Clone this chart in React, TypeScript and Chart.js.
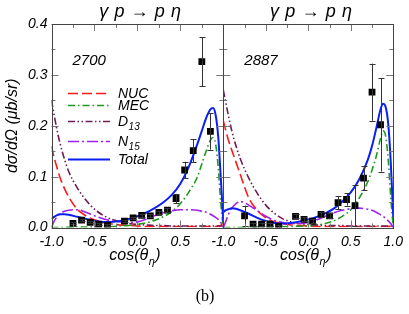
import React, { useEffect, useRef } from 'react';
import { Chart, registerables } from 'chart.js';
Chart.register(...registerables);

const W = 409;
const H = 314;

// ---- data ----
const cosGrid = [-1, -0.97, -0.94, -0.9, -0.85, -0.8, -0.7, -0.6, -0.5, -0.4, -0.3, -0.2, -0.1, 0, 0.1, 0.2, 0.3, 0.4, 0.5, 0.6, 0.7, 0.75, 0.8, 0.85, 0.88, 0.91, 0.94, 0.97, 1.0];

const nuc2700 = [0.16, 0.138, 0.12, 0.098, 0.077, 0.06, 0.036, 0.023, 0.015, 0.01, 0.007, 0.005, 0.004, 0.003, 0.002, 0.002, 0.002, 0.002, 0.002, 0.002, 0.002, 0.002, 0.002, 0.002, 0.002, 0.002, 0.003, 0.004, 0.01];
const mec2700 = [0, 0, 0, 0, 0, 0.0005, 0.001, 0.001, 0.0015, 0.002, 0.002, 0.003, 0.004, 0.006, 0.009, 0.014, 0.021, 0.031, 0.047, 0.07, 0.1, 0.125, 0.15, 0.172, 0.177, 0.165, 0.12, 0.05, 0];
const d13_2700 = [0.25, 0.222, 0.195, 0.165, 0.135, 0.11, 0.078, 0.054, 0.036, 0.024, 0.016, 0.011, 0.008, 0.006, 0.005, 0.004, 0.004, 0.003, 0.003, 0.003, 0.003, 0.003, 0.003, 0.003, 0.003, 0.003, 0.003, 0.003, 0.003];
const n15_2700 = [0, 0.012, 0.02, 0.027, 0.032, 0.034, 0.035, 0.03, 0.023, 0.017, 0.013, 0.011, 0.01, 0.011, 0.016, 0.023, 0.029, 0.033, 0.035, 0.035, 0.034, 0.032, 0.03, 0.026, 0.023, 0.02, 0.016, 0.01, 0];
const total2700 = [0.017, 0.021, 0.024, 0.026, 0.026, 0.025, 0.021, 0.017, 0.013, 0.011, 0.011, 0.013, 0.017, 0.022, 0.029, 0.038, 0.049, 0.064, 0.086, 0.12, 0.165, 0.19, 0.215, 0.232, 0.235, 0.222, 0.18, 0.1, 0.012];

const nuc2887 = [0.21, 0.19, 0.172, 0.152, 0.128, 0.104, 0.058, 0.034, 0.019, 0.011, 0.008, 0.005, 0.004, 0.003, 0.002, 0.002, 0.002, 0.002, 0.002, 0.002, 0.002, 0.002, 0.002, 0.002, 0.002, 0.002, 0.002, 0.003, 0.008];
const mec2887 = [0, 0, 0, 0, 0, 0, 0.0005, 0.001, 0.001, 0.001, 0.0015, 0.002, 0.0025, 0.003, 0.005, 0.008, 0.013, 0.022, 0.035, 0.058, 0.09, 0.113, 0.14, 0.175, 0.19, 0.18, 0.135, 0.06, 0];
const d13_2887 = [0.27, 0.245, 0.22, 0.19, 0.16, 0.135, 0.097, 0.067, 0.044, 0.028, 0.017, 0.011, 0.008, 0.006, 0.005, 0.004, 0.004, 0.004, 0.003, 0.003, 0.003, 0.003, 0.003, 0.003, 0.003, 0.003, 0.003, 0.003, 0.003];
const n15_2887 = [0, 0.012, 0.026, 0.038, 0.047, 0.051, 0.044, 0.033, 0.022, 0.014, 0.01, 0.008, 0.008, 0.01, 0.015, 0.022, 0.029, 0.034, 0.037, 0.038, 0.036, 0.034, 0.03, 0.025, 0.022, 0.018, 0.013, 0.008, 0];
const total2887 = [0.03, 0.034, 0.036, 0.038, 0.037, 0.034, 0.027, 0.019, 0.013, 0.009, 0.008, 0.009, 0.012, 0.016, 0.021, 0.028, 0.037, 0.051, 0.069, 0.095, 0.133, 0.16, 0.195, 0.232, 0.243, 0.237, 0.205, 0.13, 0.02];

const dataCos = [-0.75, -0.65, -0.55, -0.45, -0.35, -0.15, -0.05, 0.05, 0.15, 0.25, 0.35, 0.45, 0.55, 0.65, 0.75, 0.85];
const exp2700 = [0.008, 0.0145, 0.01, 0.0066, 0.0046, 0.0125, 0.019, 0.024, 0.023, 0.0296, 0.034, 0.057, 0.113, 0.151, 0.326, 0.189];
const err2700 = [0.002, 0.002, 0.002, 0.002, 0.002, 0.002, 0.002, 0.003, 0.003, 0.003, 0.004, 0.009, 0.016, 0.023, 0.048, 0.036];
const exp2887 = [0.023, 0.0066, 0.0066, 0.0066, 0.0026, 0.022, 0.016, 0.0125, 0.026, 0.023, 0.049, 0.055, 0.043, 0.097, 0.266, 0.202];
const err2887 = [0.02, 0.003, 0.003, 0.003, 0.003, 0.004, 0.004, 0.004, 0.005, 0.005, 0.013, 0.012, 0.04, 0.024, 0.056, 0.092];

const xTicks = [-1, -0.5, 0, 0.5, 1];
const yTicks = [0, 0.1, 0.2, 0.3, 0.4];

const legendNames = ['NUC', 'MEC', 'D', 'N', 'Total'];
const legendSubs = ['', '', '13', '15', ''];

// ---- styles ----
const SANS = "'Liberation Sans', Arial, sans-serif";
const COLORS = { nuc: '#ff1a1a', mec: '#1f9a1f', d13: '#6e1e55', n15: '#a020f0', total: '#0a1ef5' };
const DASH = {
  nuc: [10, 4],
  mec: [7, 3, 1.5, 3],
  d13: [7, 2.5, 1.5, 2.5, 1.5, 2.5],
  n15: [11, 3, 2, 3],
  total: [] as number[],
};
const LEGEND_ROWS = [93, 105, 121, 141, 159];

function curve(label: string, ys: number[], color: string, dash: number[], width: number) {
  return {
    type: 'scatter' as const,
    label,
    data: cosGrid.map((x, i) => ({ x, y: ys[i] })),
    showLine: true,
    borderColor: color,
    backgroundColor: color,
    borderDash: dash,
    borderWidth: width,
    pointRadius: 0,
    cubicInterpolationMode: 'monotone' as const,
    fill: false,
  };
}

function drawSubText(ctx: CanvasRenderingContext2D, main: string, sub: string, tail: string, x: number, y: number, size: number, align: 'left' | 'center') {
  const mainFont = `italic ${size}px ${SANS}`;
  const subFont = `italic ${Math.round(size * 0.68)}px ${SANS}`;
  ctx.font = mainFont;
  const w1 = ctx.measureText(main).width;
  const w3 = tail ? ctx.measureText(tail).width : 0;
  ctx.font = subFont;
  const w2 = sub ? ctx.measureText(sub).width : 0;
  let sx = align === 'center' ? x - (w1 + w2 + w3) / 2 : x;
  ctx.textAlign = 'left';
  ctx.textBaseline = 'alphabetic';
  ctx.font = mainFont;
  ctx.fillText(main, sx, y);
  if (sub) {
    ctx.font = subFont;
    ctx.fillText(sub, sx + w1 + 0.5, y + size * 0.3);
  }
  if (tail) {
    ctx.font = mainFont;
    ctx.fillText(tail, sx + w1 + w2 + 1, y);
  }
}

function buildConfig(isLeft: boolean): any {
  const nuc = isLeft ? nuc2700 : nuc2887;
  const mec = isLeft ? mec2700 : mec2887;
  const d13 = isLeft ? d13_2700 : d13_2887;
  const n15 = isLeft ? n15_2700 : n15_2887;
  const tot = isLeft ? total2700 : total2887;
  const exp = isLeft ? exp2700 : exp2887;
  const err = isLeft ? err2700 : err2887;
  const energy = isLeft ? '2700' : '2887';

  const tickFont = { family: SANS, size: 14, style: 'italic' as const };

  const plugin = {
    id: 'panelDeco' + (isLeft ? 'L' : 'R'),
    afterDatasetsDraw(chart: any) {
      const ctx = chart.ctx as CanvasRenderingContext2D;
      const xs = chart.scales.x;
      const ys = chart.scales.y;
      const a = chart.chartArea;
      ctx.save();
      ctx.beginPath();
      ctx.rect(a.left, a.top, a.right - a.left, a.bottom - a.top);
      ctx.clip();
      ctx.strokeStyle = '#333';
      ctx.lineWidth = 1;
      dataCos.forEach((c, i) => {
        const px = Math.round(xs.getPixelForValue(c)) + 0.5;
        const top = ys.getPixelForValue(exp[i] + err[i]);
        const bot = ys.getPixelForValue(Math.max(exp[i] - err[i], 0));
        ctx.beginPath();
        ctx.moveTo(px, top);
        ctx.lineTo(px, bot);
        ctx.moveTo(px - 3, Math.round(top) + 0.5);
        ctx.lineTo(px + 3, Math.round(top) + 0.5);
        ctx.moveTo(px - 3, Math.round(bot) + 0.5);
        ctx.lineTo(px + 3, Math.round(bot) + 0.5);
        ctx.stroke();
      });
      ctx.restore();
    },
    afterDraw(chart: any) {
      const ctx = chart.ctx as CanvasRenderingContext2D;
      const xs = chart.scales.x;
      const ys = chart.scales.y;
      const a = chart.chartArea;
      ctx.save();
      // ticks
      ctx.strokeStyle = '#777';
      ctx.lineWidth = 1;
      for (let k = 0; k <= 8; k++) {
        const px = Math.round(xs.getPixelForValue(-1 + k * 0.25)) + 0.5;
        const len = k % 2 === 0 ? 7 : 4;
        ctx.beginPath();
        ctx.moveTo(px, a.bottom);
        ctx.lineTo(px, a.bottom - len);
        ctx.moveTo(px, a.top);
        ctx.lineTo(px, a.top + len);
        ctx.stroke();
      }
      for (let k = 0; k <= 8; k++) {
        const py = Math.round(ys.getPixelForValue(k * 0.05)) + 0.5;
        const len = k % 2 === 0 ? 7 : 4;
        ctx.beginPath();
        ctx.moveTo(a.left, py);
        ctx.lineTo(a.left + len, py);
        ctx.moveTo(a.right, py);
        ctx.lineTo(a.right - len, py);
        ctx.stroke();
      }
      // frame
      ctx.strokeStyle = '#444';
      ctx.strokeRect(Math.round(a.left) + 0.5, Math.round(a.top) + 0.5, Math.round(a.right) - Math.round(a.left), Math.round(a.bottom) - Math.round(a.top));

      ctx.fillStyle = '#000';
      const cx = (a.left + a.right) / 2;
      // title
      ctx.font = `italic 18px ${SANS}`;
      (ctx as any).letterSpacing = '0.6px';
      ctx.textAlign = 'center';
      ctx.textBaseline = 'middle';
      ctx.fillText('\u03b3 p \u2192 p \u03b7', cx + 3, 12);
      (ctx as any).letterSpacing = '0px';
      // energy label
      ctx.font = `italic 15px ${SANS}`;
      ctx.textAlign = 'left';
      ctx.fillText(energy, a.left + 21, 61);
      // x title
      drawSubText(ctx, 'cos(\u03b8', '\u03b7', ')', cx - 3, 260, 16, 'center');

      if (isLeft) {
        // legend
        const keys = ['nuc', 'mec', 'd13', 'n15', 'total'] as const;
        keys.forEach((k, i) => {
          const y = LEGEND_ROWS[i] + 0.5;
          ctx.save();
          ctx.strokeStyle = COLORS[k];
          ctx.lineWidth = k === 'total' ? 2 : 1.6;
          ctx.setLineDash(DASH[k]);
          ctx.beginPath();
          ctx.moveTo(68, y);
          ctx.lineTo(110, y);
          ctx.stroke();
          ctx.restore();
          ctx.fillStyle = '#000';
          drawSubText(ctx, legendNames[i], legendSubs[i], '', 118, LEGEND_ROWS[i] + 5, 14, 'left');
        });
        // y title
        ctx.save();
        ctx.translate(13, (a.top + a.bottom) / 2);
        ctx.rotate(-Math.PI / 2);
        ctx.font = `italic 16px ${SANS}`;
        ctx.textAlign = 'center';
        ctx.textBaseline = 'middle';
        ctx.fillText('d\u03c3/d\u03a9 (\u03bcb/sr)', 0, 0);
        ctx.restore();
        // panel label
        ctx.font = `16px 'Liberation Serif', 'Times New Roman', serif`;
        ctx.textAlign = 'center';
        ctx.textBaseline = 'middle';
        ctx.fillText('(b)', 205, 297);
      }
      ctx.restore();
    },
  };

  return {
    type: 'scatter',
    data: {
      datasets: [
        {
          type: 'scatter',
          label: 'data',
          data: dataCos.map((x, i) => ({ x, y: exp[i] })),
          pointStyle: 'rect',
          pointRadius: 4.8,
          backgroundColor: '#000',
          borderColor: '#000',
          borderWidth: 0,
          showLine: false,
        },
        curve('Total', tot, COLORS.total, DASH.total, 2),
        curve('N15', n15, COLORS.n15, DASH.n15, 1.6),
        curve('D13', d13, COLORS.d13, DASH.d13, 1.6),
        curve('MEC', mec, COLORS.mec, DASH.mec, 1.6),
        curve('NUC', nuc, COLORS.nuc, DASH.nuc, 1.6),
      ],
    },
    options: {
      responsive: false,
      animation: false,
      devicePixelRatio: 1,
      events: [],
      layout: {
        padding: isLeft
          ? { left: 0, top: 24, right: W - 223.3, bottom: 0 }
          : { left: 223.3, top: 24, right: W - 396, bottom: 0 },
      },
      plugins: { legend: { display: false }, tooltip: { enabled: false }, title: { display: false } },
      scales: {
        x: {
          type: 'linear',
          position: 'bottom',
          min: -1,
          max: 1,
          afterFit: (s: any) => { s.height = H - 227.5; },
          afterBuildTicks: (s: any) => { s.ticks = xTicks.map((v) => ({ value: v })); },
          grid: { display: false, drawTicks: false },
          border: { display: false },
          ticks: {
            font: tickFont,
            color: '#000',
            padding: 6,
            maxRotation: 0,
            autoSkip: false,
            callback: (v: number) => (isLeft && v === 1 ? '' : Number(v).toFixed(1)),
          },
        },
        y: {
          type: 'linear',
          position: 'left',
          min: 0,
          max: 0.4,
          display: isLeft ? true : false,
          afterFit: (s: any) => { s.width = isLeft ? 51.5 : 0; },
          afterBuildTicks: (s: any) => { s.ticks = yTicks.map((v) => ({ value: v })); },
          grid: { display: false, drawTicks: false },
          border: { display: false },
          ticks: {
            font: tickFont,
            color: '#000',
            padding: 4,
            autoSkip: false,
            callback: (v: number) => Number(v).toFixed(1),
          },
        },
      },
    },
    plugins: [plugin],
  };
}

export default function App() {
  const leftRef = useRef<HTMLCanvasElement>(null);
  const rightRef = useRef<HTMLCanvasElement>(null);
  useEffect(() => {
    const c1 = new Chart(leftRef.current as HTMLCanvasElement, buildConfig(true));
    const c2 = new Chart(rightRef.current as HTMLCanvasElement, buildConfig(false));
    return () => {
      c1.destroy();
      c2.destroy();
    };
  }, []);
  const cs: React.CSSProperties = { position: 'absolute', left: 0, top: 0, width: W, height: H };
  return (
    <div style={{ position: 'fixed', left: 0, top: 0, width: W, height: H, background: '#fff' }}>
      <canvas ref={leftRef} width={W} height={H} style={cs} />
      <canvas ref={rightRef} width={W} height={H} style={cs} />
    </div>
  );
}
